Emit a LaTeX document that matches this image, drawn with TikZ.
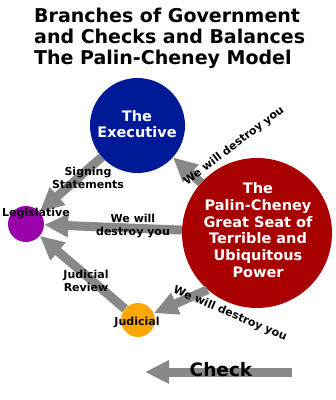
\documentclass[tikz,border=0pt]{standalone}
\usepackage{fontspec}
\setmainfont{DejaVu Sans}
\usetikzlibrary{arrows.meta}
\definecolor{execblue}{RGB}{0,25,150}
\definecolor{seatred}{RGB}{168,0,0}
\definecolor{legpurple}{RGB}{153,0,170}
\definecolor{judorange}{RGB}{255,166,0}
\definecolor{chkgray}{RGB}{136,136,136}
\tikzset{
  chkarr/.style={-{Triangle[length=24pt,width=22pt]},line width=9pt,draw=chkgray},
  branch/.style={circle,inner sep=0pt,draw=none},
  lbl/.style={align=center,inner sep=0pt,font=\fontsize{11}{13}\selectfont\bfseries},
  intxt/.style={align=center,inner sep=0pt,text=white,font=\fontsize{14.5}{16.7}\selectfont\bfseries}
}
\begin{document}
\begin{tikzpicture}[x=1pt,y=-1pt]
\useasboundingbox (0,0) rectangle (336,400);
\node[anchor=north west,align=left,inner sep=0pt,font=\fontsize{19}{21}\selectfont\bfseries] (title) at (34,8)
  {Branches of Government\\ and Checks and Balances\\ The Palin-Cheney Model};

% branches
\node[branch,fill=execblue,minimum size=95pt] (exec) at (137.5,125.5) {};
\node[branch,fill=seatred,minimum size=150pt] (seat) at (257,233) {};
\node[branch,fill=legpurple,minimum size=36pt] (leg) at (26,224) {};
\node[branch,fill=judorange,minimum size=34pt] (jud) at (138,320) {};

\node[intxt] (exectxt) at (137,124) {The\\ Executive};
\node[intxt] (seattxt) at (258,230) {The\\ Palin-Cheney\\ Great Seat of\\ Terrible and\\ Ubiquitous\\ Power};

% checks
\draw[chkarr] (exec) -- (leg);
\draw[chkarr] (seat) -- (exec);
\draw[chkarr] (seat) -- (leg);
\draw[chkarr] (seat.-131) -- (jud);
\draw[chkarr] (jud) -- (leg);

\node[lbl] (legtxt) at (36,214) {Legislative};
\node[lbl] (judtxt) at (137,322) {Judicial};
\node[lbl] (signtxt) at (88,178) {Signing\\ Statements};
\node[lbl] (revtxt) at (86,281) {Judicial\\ Review};
\node[lbl] (dlegtxt) at (133,226) {We will\\ destroy you};
\node[lbl,rotate=37] (dexectxt) at (234,146) {We will destroy you};
\node[lbl,rotate=-23] (djudtxt) at (230,314) {We will destroy you};

% legend
\coordinate (chkfrom) at (292,372);
\coordinate (chkto) at (145,372);
\draw[chkarr] (chkfrom) -- (chkto);
\node[font=\fontsize{18.5}{21}\selectfont\bfseries,inner sep=0pt] (chktxt) at (221,370) {Check};
\end{tikzpicture}
\end{document}
